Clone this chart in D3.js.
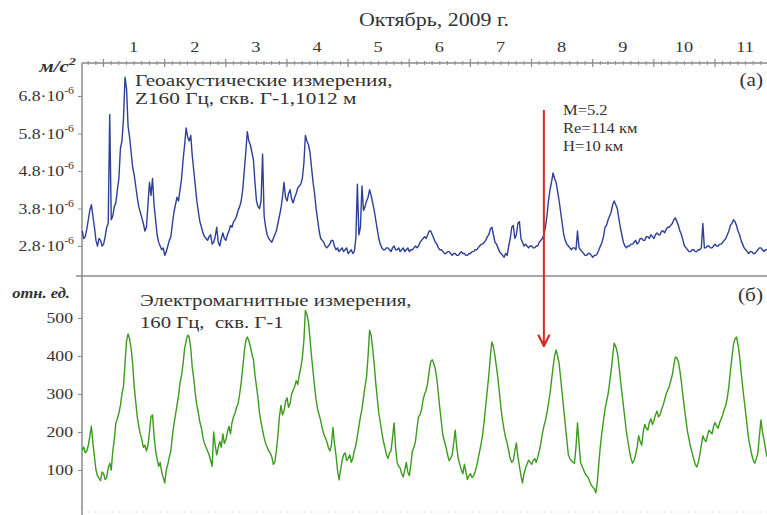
<!DOCTYPE html>
<html><head><meta charset="utf-8">
<script src="https://cdn.jsdelivr.net/npm/d3@7"></script>
<style>body{margin:0;background:#fff}</style>
</head><body>
<svg id="c" width="767" height="515"></svg>
<script>
// time grid: day of October (fractional), first sample and step
const dayStart = 0.66;
const dayStep = 0.025;
// Geoacoustic Z160 Hz, units of 1e-6 m/s^2
const geoValues = [
 3.2,3.0, 3.05,3.25, 3.5,3.75, 3.9,3.6, 3.3,2.95, 2.8,3.0, 2.95,2.8, 2.85,3.05, 3.3,3.4, 6.3,3.5,
 3.6,3.85, 3.95,4.3, 4.6,5.4, 5.6,6.2, 7.3,7.0, 6.0,5.7, 5.3,4.9, 4.7,4.4, 4.1,3.85, 3.7,3.55,
 3.4,3.2, 3.3,3.9, 4.5,4.15, 4.6,3.9, 3.5,3.1, 2.9,2.8, 2.7,2.75, 2.55,2.65, 2.8,2.95, 3.05,3.4,
 3.7,3.9, 4.1,4.0, 4.3,4.6, 5.1,5.5, 5.95,5.7, 5.6,5.75, 5.2,4.8, 4.4,4.0, 3.7,3.45, 3.3,3.15,
 3.05,3.0, 2.95,3.05, 3.1,2.85, 2.9,3.05, 3.3,2.9, 2.8,3.0, 3.15,3.0, 2.95,3.1, 3.2,3.35, 3.3,3.45,
 3.5,3.6, 3.75,3.85, 4.0,4.3, 4.8,5.3, 5.85,5.6, 5.5,5.3, 5.1,4.5, 4.0,3.85, 3.8,4.0, 5.25,3.6,
 3.3,3.1, 3.0,2.95, 2.9,3.0, 3.1,3.2, 3.4,3.6, 3.8,4.1, 4.5,4.1, 4.0,4.2, 4.3,4.05, 3.95,4.1,
 4.2,4.35, 4.4,4.45, 4.6,5.0, 5.75,5.6, 5.5,5.3, 4.9,4.5, 4.2,3.8, 3.5,3.2, 3.0,2.95, 2.9,2.8,
 2.75,2.8, 2.85,2.95, 2.95,2.8, 2.7,2.75, 2.65,2.7, 2.75,2.65, 2.7,2.75, 2.6,2.65, 2.7,2.6, 2.65,3.0,
 4.45,3.1, 3.3,4.4, 3.75,3.85, 4.0,4.1, 4.3,4.15, 3.95,3.75, 3.5,3.25, 3.0,2.85, 2.75,2.7, 2.7,2.75,
 2.75,2.7, 2.65,2.75, 2.8,2.7, 2.7,2.75, 2.65,2.7, 2.75,2.65, 2.7,2.75, 2.65,2.7, 2.7,2.75, 2.8,2.75,
 2.8,2.9, 2.95,3.0, 3.05,3.0, 3.1,3.2, 3.2,3.1, 3.0,2.9, 2.85,2.75, 2.7,2.7, 2.65,2.6, 2.6,2.65,
 2.65,2.6, 2.55,2.6, 2.6,2.55, 2.55,2.6, 2.65,2.6, 2.6,2.55, 2.55,2.6, 2.6,2.65, 2.65,2.7, 2.7,2.75,
 2.8,2.85, 2.85,2.9, 2.95,3.05, 3.1,3.25, 3.3,3.1, 2.9,2.85, 2.75,2.65, 2.6,2.55, 2.5,2.6, 2.55,2.8,
 3.0,3.3, 3.35,3.0, 3.1,3.4, 3.45,3.0, 2.9,2.8, 2.85,2.8, 2.75,2.8, 2.8,2.75, 2.75,2.8, 2.8,2.9,
 2.95,3.0, 3.1,3.3, 3.6,4.0, 4.3,4.5, 4.75,4.6, 4.5,4.25, 4.0,3.7, 3.4,3.1, 2.95,2.85, 2.8,2.75,
 2.7,2.75, 2.75,2.7, 3.2,2.75, 2.7,2.65, 2.6,2.55, 2.55,2.6, 2.6,2.55, 2.5,2.55, 2.55,2.6, 2.7,2.8,
 2.9,3.05, 3.3,3.35, 3.5,3.6, 3.7,3.9, 4.0,3.9, 3.8,3.55, 3.3,3.1, 2.9,2.8, 2.75,2.8, 2.8,2.85,
 2.85,2.9, 2.95,2.85, 2.9,3.0, 3.0,2.95, 2.95,3.05, 3.05,3.0, 3.1,3.05, 3.0,3.1, 3.15,3.1, 3.1,3.2,
 3.2,3.15, 3.25,3.3, 3.3,3.35, 3.4,3.5, 3.55,3.45, 3.35,3.2, 3.1,2.95, 2.8,2.75, 2.7,2.65, 2.65,2.7,
 2.7,2.65, 2.65,2.7, 2.7,2.75, 3.4,2.75, 2.75,2.8, 2.8,2.75, 2.75,2.8, 2.85,2.8, 2.8,2.85, 2.85,2.9,
 2.95,3.0, 3.1,3.2, 3.35,3.4, 3.5,3.45, 3.35,3.2, 3.1,2.95, 2.85,2.75, 2.7,2.65, 2.6,2.65, 2.65,2.6,
 2.6,2.65, 2.7,2.75, 2.75,2.7, 2.65,2.7, 2.7
];
// Electromagnetic 160 Hz, relative units
const emValues = [
 153,160, 145,150, 165,190, 215,170, 135,100, 85,78, 72,95, 90,75, 80,105, 118,100,
 150,180, 224,235, 250,270, 300,320, 380,440, 458,445, 420,380, 320,280, 240,215, 195,180,
 160,165, 150,165, 200,240, 245,190, 150,130, 110,120, 95,80, 66,100, 115,135, 150,190,
 220,245, 270,295, 330,350, 380,420, 440,455, 450,420, 370,340, 300,270, 250,225, 210,185,
 170,160, 150,140, 125,110, 200,165, 140,160, 175,160, 195,170, 180,200, 215,195, 225,240,
 250,265, 275,300, 330,370, 410,440, 450,440, 425,405, 390,350, 320,290, 250,225, 205,185,
 170,160, 150,145, 135,115, 120,150, 190,240, 270,245, 255,280, 290,265, 275,300, 310,320,
 335,325, 350,370, 395,440, 520,510, 490,445, 400,360, 320,285, 260,245, 230,210, 195,185,
 175,160, 150,165, 212,170, 140,100, 74,100, 125,140, 145,125, 130,140, 120,130, 150,165,
 190,215, 240,260, 290,320, 345,400, 468,455, 420,380, 330,290, 250,225, 200,175, 160,140,
 130,145, 150,185, 224,160, 120,110, 105,90, 82,100, 120,95, 85,115, 150,160, 175,210,
 240,245, 260,285, 300,310, 330,360, 385,390, 380,365, 340,300, 260,225, 190,175, 160,140,
 125,130, 140,170, 205,160, 130,115, 100,90, 115,95, 75,85, 90,80, 85,95, 110,130,
 150,170, 195,230, 270,310, 350,400, 437,425, 400,370, 340,300, 260,230, 205,185, 170,150,
 130,120, 125,150, 171,135, 110,85, 66,90, 105,115, 126,120, 115,125, 130,120, 134,150,
 170,195, 215,230, 250,275, 300,335, 370,400, 416,400, 380,340, 300,260, 220,180, 140,130,
 125,120, 118,160, 224,170, 120,110, 100,90, 85,80, 70,60, 55,50, 40,70, 120,165,
 200,230, 260,280, 300,330, 360,400, 434,425, 410,380, 340,305, 270,235, 200,175, 150,130,
 118,125, 140,160, 190,175, 165,200, 220,210, 205,225, 235,220, 230,245, 255,240, 245,260,
 270,285, 300,310, 320,335, 350,375, 397,395, 385,360, 330,295, 260,230, 200,180, 160,145,
 130,115, 108,120, 140,165, 190,180, 175,190, 205,200, 195,215, 225,215, 210,225, 235,245,
 260,270, 290,320, 360,395, 430,445, 450,430, 400,360, 320,285, 250,215, 180,160, 140,125,
 118,130, 145,190, 232,200, 180,155, 134
];
const dayLabels = ["1","2","3","4","5","6","7","8","9","10","11"];
const geoTicks = [2.8, 3.8, 4.8, 5.8, 6.8];
const emTicks = [100, 200, 300, 400, 500];
const quakeDay = 8.21;
const quakeInfo = ["M=5.2", "Re=114 км", "H=10 км"];
const monthTitle = "Октябрь, 2009 г.";
const geoTitle = ["Геоакустические измерения,", "Z160 Гц, скв. Г-1,1012 м"];
const emTitle = ["Электромагнитные измерения,", "160 Гц,\u00a0 скв. Г-1"];

const W = 767, H = 515;
const L = 82, TOP = 63, MID = 276;
const SX = 1.18; // horizontal stretch of the source figure text
const serif = "'Liberation Serif','Times New Roman',serif";
const axisCol = "#8a8a8a", textCol = "#333";

const svg = d3.select("#c");
const x = d3.scaleLinear().domain([0.6566, 11.859]).range([L, W]);
const yGeo = d3.scaleLinear().domain([2.8, 6.8]).range([246, 96]);
const yEm = d3.scaleLinear().domain([100, 500]).range([470, 318]);

function txt(str, px, py, size, anchor, opts = {}) {
  const sx = opts.sx || SX;
  const t = svg.append("text")
    .attr("transform", `translate(${px},${py}) scale(${sx},1)`)
    .attr("font-family", serif).attr("font-size", size)
    .attr("fill", opts.fill || textCol)
    .attr("text-anchor", anchor || "start")
    .text(str);
  if (opts.bold) t.attr("font-weight", "bold");
  if (opts.italic) t.attr("font-style", "italic");
  return t;
}

// frame lines
svg.append("line").attr("x1", L).attr("x2", L).attr("y1", TOP).attr("y2", H)
  .attr("stroke", axisCol).attr("stroke-width", 1.5);
svg.append("line").attr("x1", 76).attr("x2", W).attr("y1", MID).attr("y2", MID)
  .attr("stroke", axisCol).attr("stroke-width", 1.5);
svg.append("line").attr("x1", L).attr("x2", W).attr("y1", 512).attr("y2", 512)
  .attr("stroke", "#e2e2e2").attr("stroke-width", 1).attr("stroke-dasharray", "2,4");

// top time axis
const majors = d3.range(1, 13);
const minors = d3.range(0.75, 12, 0.125).filter(d => Math.abs(d - Math.round(d)) > 1e-6);
const gx = svg.append("g").attr("transform", `translate(0,${TOP})`);
gx.append("line").attr("x1", L).attr("x2", W).attr("stroke", axisCol).attr("stroke-width", 1.5);
gx.call(d3.axisBottom(x).tickValues(majors.filter(d => x(d) <= W)).tickSize(4).tickFormat(""))
  .call(g => g.select(".domain").remove())
  .call(g => g.selectAll(".tick line").attr("y1", -4).attr("stroke", axisCol).attr("stroke-width", 1.2));
const gm = svg.append("g").attr("transform", `translate(0,${TOP})`);
gm.call(d3.axisBottom(x).tickValues(minors.filter(d => x(d) <= W && x(d) >= L)).tickSize(2).tickFormat(""))
  .call(g => g.select(".domain").remove())
  .call(g => g.selectAll(".tick line").attr("y1", -2).attr("stroke", axisCol).attr("stroke-width", 1));
dayLabels.forEach((lab, i) => txt(lab, x(i + 1.5), 52, 15.5, "middle"));
txt(monthTitle, 434, 26, 18, "middle", {sx: 1.22});

// y axes
const gyTop = svg.append("g").attr("transform", `translate(${L},0)`)
  .call(d3.axisLeft(yGeo).tickValues(geoTicks).tickSize(4).tickFormat(""));
gyTop.select(".domain").remove();
gyTop.selectAll(".tick line").attr("stroke", axisCol);
geoTicks.forEach(v => {
  const t = txt("", 74, yGeo(v) + 5, 15, "end");
  t.append("tspan").text(v.toFixed(1) + "·10");
  t.append("tspan").attr("font-size", 10).attr("dy", -7).text("-6");
});
const gyBot = svg.append("g").attr("transform", `translate(${L},0)`)
  .call(d3.axisLeft(yEm).tickValues(emTicks).tickSize(4).tickFormat(""));
gyBot.select(".domain").remove();
gyBot.selectAll(".tick line").attr("stroke", axisCol);
emTicks.forEach(v => txt(String(v), 73, yEm(v) + 5, 15, "end"));

// unit labels
const u1 = txt("м/с", 76, 72, 16, "end", {bold: true, italic: true, sx: 1.3});
u1.append("tspan").attr("font-size", 11).attr("dy", -7).text("2");
txt("отн. ед.", 70, 298, 14, "end", {bold: true, italic: true});

// series
const geoData = geoValues.map((v, i) => [dayStart + i * dayStep, v]);
const emData = emValues.map((v, i) => [dayStart + i * dayStep, v]);
svg.append("path").datum(geoData)
  .attr("d", d3.line().x(d => x(d[0])).y(d => yGeo(d[1])))
  .attr("fill", "none").attr("stroke", "#2e3f96").attr("stroke-width", 1.4)
  .attr("stroke-linejoin", "round");
svg.append("path").datum(emData)
  .attr("d", d3.line().x(d => x(d[0])).y(d => yEm(d[1])))
  .attr("fill", "none").attr("stroke", "#3c9b1e").attr("stroke-width", 1.4)
  .attr("stroke-linejoin", "round");

// panel titles
txt(geoTitle[0], 135, 86, 17, "start", {sx: 1.25});
txt(geoTitle[1], 135, 104, 17, "start", {sx: 1.25});
txt("(а)", 763, 86, 18, "end");
txt(emTitle[0], 140, 306, 17, "start", {sx: 1.22});
txt(emTitle[1], 140, 328, 17, "start", {sx: 1.22});
txt("(б)", 763, 301, 18, "end");

// earthquake marker
const qx = x(quakeDay);
svg.append("defs").append("marker").attr("id", "ah")
  .attr("viewBox", "0 0 10 10").attr("refX", 9).attr("refY", 5)
  .attr("markerWidth", 7).attr("markerHeight", 7).attr("orient", "auto")
  .append("path").attr("d", "M1,1 L9,5 L1,9").attr("fill", "none")
  .attr("stroke", "#d62a24").attr("stroke-width", 1.6);
svg.append("line").attr("x1", qx).attr("x2", qx).attr("y1", 110).attr("y2", 346)
  .attr("stroke", "#d62a24").attr("stroke-width", 2).attr("marker-end", "url(#ah)");
quakeInfo.forEach((s, i) => txt(s, 563, 115 + i * 18, 14, "start"));
</script>
</body></html>
